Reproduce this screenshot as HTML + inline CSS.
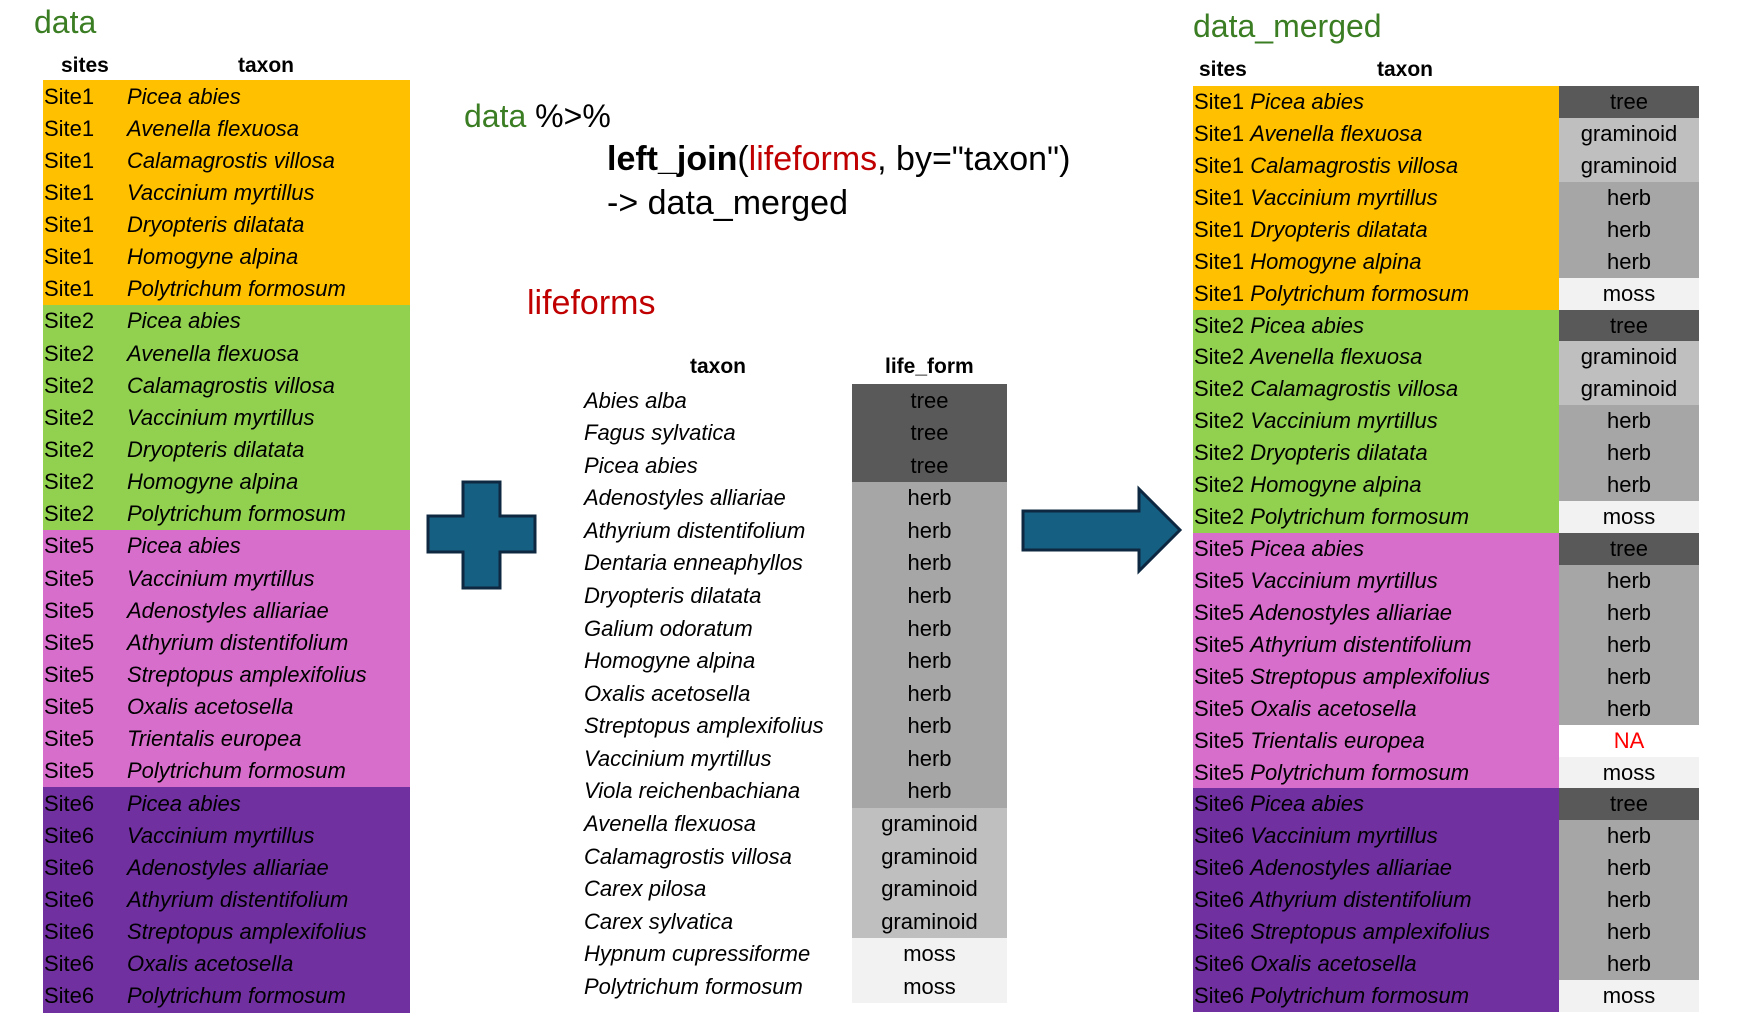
<!DOCTYPE html>
<html><head><meta charset="utf-8">
<style>
body{margin:0;width:1737px;height:1033px;background:#fff;position:relative;overflow:hidden;font-family:"Liberation Sans",sans-serif;color:#000}
.a{position:absolute;white-space:nowrap}
.cell{position:absolute;box-sizing:border-box;font-size:22px;display:flex;align-items:center;white-space:nowrap}
.t{font-style:italic}
.h{font-weight:bold;font-size:21px}
</style></head><body>
<div class="a" style="left:34px;top:4px;font-size:32px;color:#3a7d22">data</div>
<div class="a h" style="left:61px;top:54px">sites</div>
<div class="a h" style="left:238px;top:54px">taxon</div>
<div class="a" style="left:464px;top:98px;font-size:32px"><span style="color:#3a7d22">data</span> %&gt;%</div>
<div class="a" style="left:607px;top:140px;font-size:34px"><b>left_join</b>(<span style="color:#c00000">lifeforms</span>, by="taxon")</div>
<div class="a" style="left:607px;top:184px;font-size:34px">-&gt; data_merged</div>
<div class="a" style="left:527px;top:284px;font-size:34px;color:#c00000">lifeforms</div>
<div class="a h" style="left:690px;top:355px">taxon</div>
<div class="a h" style="left:885px;top:355px">life_form</div>
<div class="a" style="left:1193px;top:8px;font-size:32px;color:#3a7d22">data_merged</div>
<div class="a h" style="left:1199px;top:58px">sites</div>
<div class="a h" style="left:1377px;top:58px">taxon</div>
<svg class="a" style="left:0;top:0" width="1737" height="1033">
<path d="M463 482H500V516H535V552H500V588H463V552H428V516H463Z" fill="#156082" stroke="#0e2841" stroke-width="3"/>
<path d="M1023 511H1139V489L1180 530L1139 571V550H1023Z" fill="#156082" stroke="#0e2841" stroke-width="3"/>
</svg>
<div id="root"></div>
<script>
const dataSites=["Site1","Site1","Site1","Site1","Site1","Site1","Site1","Site2","Site2","Site2","Site2","Site2","Site2","Site2","Site5","Site5","Site5","Site5","Site5","Site5","Site5","Site5","Site6","Site6","Site6","Site6","Site6","Site6","Site6"];
const dataTaxa=["Picea abies","Avenella flexuosa","Calamagrostis villosa","Vaccinium myrtillus","Dryopteris dilatata","Homogyne alpina","Polytrichum formosum","Picea abies","Avenella flexuosa","Calamagrostis villosa","Vaccinium myrtillus","Dryopteris dilatata","Homogyne alpina","Polytrichum formosum","Picea abies","Vaccinium myrtillus","Adenostyles alliariae","Athyrium distentifolium","Streptopus amplexifolius","Oxalis acetosella","Trientalis europea","Polytrichum formosum","Picea abies","Vaccinium myrtillus","Adenostyles alliariae","Athyrium distentifolium","Streptopus amplexifolius","Oxalis acetosella","Polytrichum formosum"];
const lfTaxa=["Abies alba","Fagus sylvatica","Picea abies","Adenostyles alliariae","Athyrium distentifolium","Dentaria enneaphyllos","Dryopteris dilatata","Galium odoratum","Homogyne alpina","Oxalis acetosella","Streptopus amplexifolius","Vaccinium myrtillus","Viola reichenbachiana","Avenella flexuosa","Calamagrostis villosa","Carex pilosa","Carex sylvatica","Hypnum cupressiforme","Polytrichum formosum"];
const lfForms=["tree","tree","tree","herb","herb","herb","herb","herb","herb","herb","herb","herb","herb","graminoid","graminoid","graminoid","graminoid","moss","moss"];
const siteColor={Site1:"#ffc000",Site2:"#92d050",Site5:"#d86ecc",Site6:"#7030a0"};
const formColor={tree:"#595959",herb:"#a6a6a6",graminoid:"#bfbfbf",moss:"#f2f2f2",NA:"#ffffff"};
const root=document.getElementById('root');
function cell(x,y,w,h,bg,html,cls,just){
 const d=document.createElement('div');d.className='cell '+(cls||'');
 d.style.cssText=`left:${x}px;top:${y}px;width:${w}px;height:${h}px;background:${bg};justify-content:${just||'flex-start'}`;
 d.innerHTML=html;root.appendChild(d);return d;}
const lTop=80,lH=(1012-80)/dataSites.length;
dataSites.forEach((s,i)=>{
 const y=lTop+i*lH;
 const r=cell(43,y,367,Math.ceil(lH),siteColor[s],`<span style="margin-left:1px;width:83px;display:inline-block">${s}</span><i>${dataTaxa[i]}</i>`);
 
 
});
const mTop=384,mH=(1003-384)/lfTaxa.length;
lfTaxa.forEach((t,i)=>{
 const y=mTop+i*mH;
 const a=cell(584,y,268,Math.ceil(mH),'transparent',t,'t');
 
 
 const b=cell(852,y,155,Math.ceil(mH),formColor[lfForms[i]],lfForms[i],'','center');
 
 
});
const lookup={};lfTaxa.forEach((t,i)=>lookup[t]=lfForms[i]);
const rTop=86,rH=(1012-86)/dataSites.length;
dataSites.forEach((s,i)=>{
 const y=rTop+i*rH;
 const a=cell(1193,y,366,Math.ceil(rH),siteColor[s],`<span style="margin-left:1px">${s}&nbsp;<i>${dataTaxa[i]}</i></span>`);
 
 
 const f=lookup[dataTaxa[i]]||'NA';
 const b=cell(1559,y,140,Math.ceil(rH),formColor[f],f,'','center');
 if(f==='NA')b.style.color='#ff0000';
 
 
});
</script>
</body></html>
